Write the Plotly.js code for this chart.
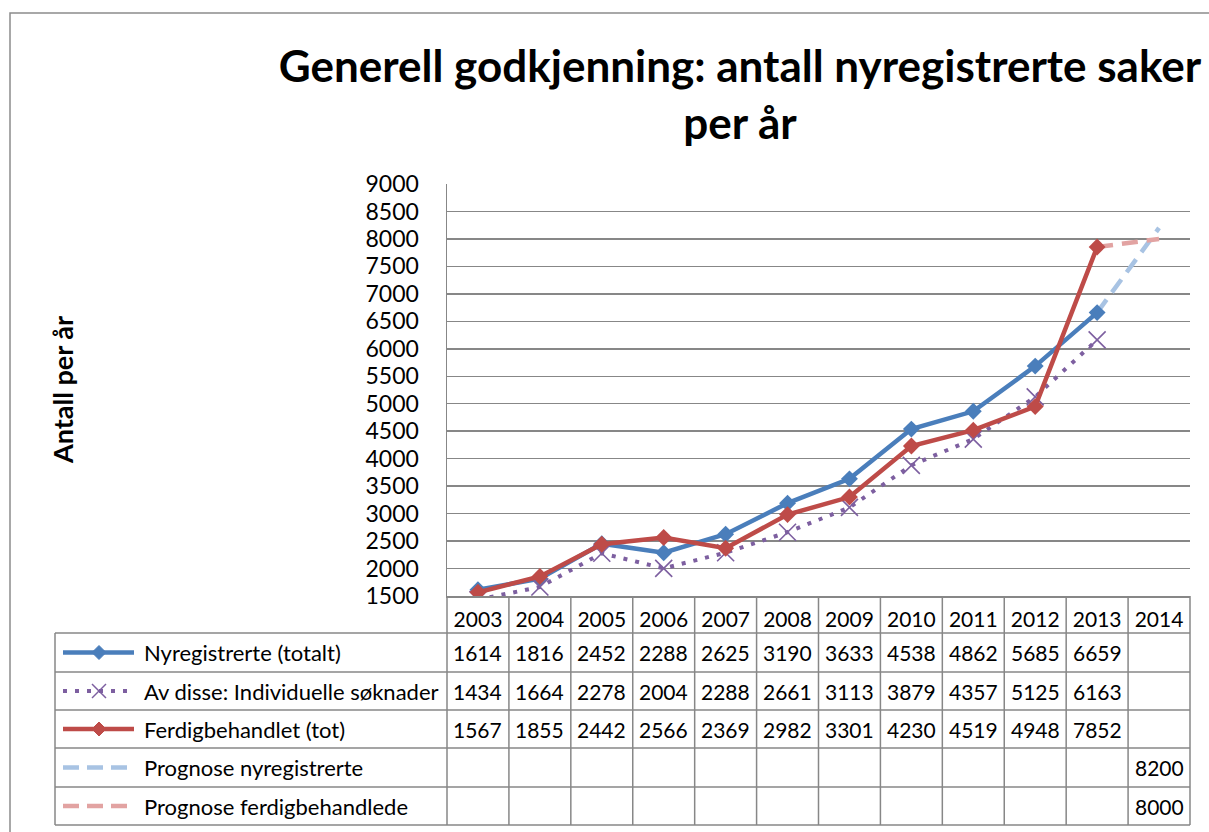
<!DOCTYPE html>
<html>
<head>
<meta charset="utf-8">
<script src="https://cdn.plot.ly/plotly-3.0.1.min.js"></script>
<style>html,body{margin:0;padding:0;background:#fff;}#chart{width:1209px;height:832px;}</style>
</head>
<body>
<div id="chart"></div>
<script>
// ---- data ----
const years = ['2003','2004','2005','2006','2007','2008','2009','2010','2011','2012','2013','2014'];
const nyregistrerte = [1614,1816,2452,2288,2625,3190,3633,4538,4862,5685,6659,null];
const individuelle = [1434,1664,2278,2004,2288,2661,3113,3879,4357,5125,6163,null];
const ferdigbehandlet = [1567,1855,2442,2566,2369,2982,3301,4230,4519,4948,7852,null];
const prognoseNyreg = [null,null,null,null,null,null,null,null,null,null,null,8200];
const prognoseFerdig = [null,null,null,null,null,null,null,null,null,null,null,8000];
const seriesNames = ['Nyregistrerte (totalt)','Av disse: Individuelle søknader','Ferdigbehandlet (tot)','Prognose nyregistrerte','Prognose ferdigbehandlede'];
const titleText = 'Generell godkjenning: antall nyregistrerte saker<br>per år';
const yTitle = 'Antall per år';

// ---- style ----
const C_BLUE = '#4A7EBB', C_RED = '#BE4B48', C_PURPLE = '#7D5FA0', C_LBLUE = '#A8C3E3', C_PINK = '#E2A3A2';
const GRID = '#878787';
const FONT = 'Lato, "Open Sans", sans-serif';
const W = 1209, H = 832;
const L = 447, R = 1190, T = 184, B = 596;
const xp = px => (px - L) / (R - L);
const yp = py => (B - py) / (B - T);

// prognosis traces start from the last actual value
function withStart(prog, actual) {
  const out = prog.slice();
  let last = -1;
  actual.forEach((v, i) => { if (v !== null) last = i; });
  if (last >= 0) out[last] = actual[last];
  return out;
}

const traces = [
  {x: years, y: withStart(prognoseNyreg, nyregistrerte), mode: 'lines', name: seriesNames[3],
   line: {color: C_LBLUE, width: 4.5, dash: '16px,9px'}, connectgaps: false},
  {x: years, y: withStart(prognoseFerdig, ferdigbehandlet), mode: 'lines', name: seriesNames[4],
   line: {color: C_PINK, width: 4.5, dash: '16px,9px'}},
  {x: years, y: nyregistrerte, mode: 'lines+markers', name: seriesNames[0],
   line: {color: C_BLUE, width: 4.5}, marker: {symbol: 'diamond', size: 13, color: C_BLUE}},
  {x: years, y: individuelle, mode: 'lines+markers', name: seriesNames[1],
   line: {color: C_PURPLE, width: 4, dash: '4px,8px'},
   marker: {symbol: 'x-thin-open', size: 17, color: C_PURPLE, line: {color: C_PURPLE, width: 1.6}}},
  {x: years, y: ferdigbehandlet, mode: 'lines+markers', name: seriesNames[2],
   line: {color: C_RED, width: 4.5}, marker: {symbol: 'diamond', size: 13, color: C_RED}}
];

// ---- table (data table below the plot) ----
const rowEdges = [633, 672, 710, 748, 787, 825];
const tableRows = [nyregistrerte, individuelle, ferdigbehandlet, prognoseNyreg, prognoseFerdig];
const shapes = [];
const annotations = [];
const lineStyle = {color: GRID, width: 1.5};

// outer chart border
shapes.push({type: 'rect', xref: 'paper', yref: 'paper', x0: xp(10), x1: xp(1230), y0: yp(13), y1: yp(850),
  line: {color: '#8C8C8C', width: 1.5}, fillcolor: 'rgba(0,0,0,0)', layer: 'below'});

// horizontal table lines
rowEdges.forEach(py => shapes.push({type: 'line', xref: 'paper', yref: 'paper', x0: xp(55), x1: 1, y0: yp(py), y1: yp(py), line: lineStyle}));
// vertical lines
shapes.push({type: 'line', xref: 'paper', yref: 'paper', x0: xp(55), x1: xp(55), y0: yp(633), y1: yp(825), line: lineStyle});
shapes.push({type: 'line', xref: 'paper', yref: 'paper', x0: 0, x1: 0, y0: yp(596), y1: yp(825), line: lineStyle});
shapes.push({type: 'line', xref: 'paper', yref: 'paper', x0: 1, x1: 1, y0: yp(596), y1: yp(825), line: lineStyle});
for (let i = 0; i < years.length - 1; i++) {
  shapes.push({type: 'line', xref: 'x', yref: 'paper', x0: i + 0.5, x1: i + 0.5, y0: yp(596), y1: yp(825), line: lineStyle});
}

// cell values
tableRows.forEach((row, r) => {
  const cy = (rowEdges[r] + rowEdges[r + 1]) / 2;
  row.forEach((v, i) => {
    if (v === null) return;
    annotations.push({xref: 'x', yref: 'paper', x: i, y: yp(cy), text: String(v), showarrow: false,
      xanchor: 'center', yanchor: 'middle', font: {family: FONT, size: 21, color: '#000'}});
  });
  annotations.push({xref: 'paper', yref: 'paper', x: xp(142), y: yp(cy), text: seriesNames[r], showarrow: false,
    xanchor: 'left', yanchor: 'middle', font: {family: FONT, size: 22, color: '#000'}});
});

// legend keys inside the table
function keyLine(cy, color, dash, width) {
  shapes.push({type: 'line', xref: 'paper', yref: 'paper', x0: xp(63), x1: xp(134), y0: yp(cy), y1: yp(cy),
    line: {color: color, width: width, dash: dash}});
}
function keyDiamond(cy, color) {
  const cx = 99, r = 7;
  shapes.push({type: 'path', xref: 'paper', yref: 'paper',
    path: `M ${xp(cx - r)} ${yp(cy)} L ${xp(cx)} ${yp(cy - r)} L ${xp(cx + r)} ${yp(cy)} L ${xp(cx)} ${yp(cy + r)} Z`,
    fillcolor: color, line: {color: color, width: 1}});
}
const rc = i => (rowEdges[i] + rowEdges[i + 1]) / 2;
keyLine(rc(0), C_BLUE, 'solid', 4.5); keyDiamond(rc(0), C_BLUE);
keyLine(rc(1), C_PURPLE, '4px,8px', 4);
shapes.push({type: 'line', xref: 'paper', yref: 'paper', x0: xp(92), x1: xp(106), y0: yp(rc(1) - 7), y1: yp(rc(1) + 7), line: {color: C_PURPLE, width: 1.5}});
shapes.push({type: 'line', xref: 'paper', yref: 'paper', x0: xp(92), x1: xp(106), y0: yp(rc(1) + 7), y1: yp(rc(1) - 7), line: {color: C_PURPLE, width: 1.5}});
keyLine(rc(2), C_RED, 'solid', 4.5); keyDiamond(rc(2), C_RED);
keyLine(rc(3), C_LBLUE, '16px,8px', 4.5);
keyLine(rc(4), C_PINK, '16px,8px', 4.5);

// y-axis title
annotations.push({xref: 'paper', yref: 'paper', x: xp(62), y: yp(390), text: '<b>' + yTitle + '</b>', textangle: -90,
  showarrow: false, xanchor: 'center', yanchor: 'middle', font: {family: FONT, size: 27, color: '#000'}});

const layout = {
  width: W, height: H,
  margin: {l: L, r: W - R, t: T, b: H - B, pad: 0},
  paper_bgcolor: '#fff', plot_bgcolor: '#fff',
  showlegend: false,
  title: {text: '<b>' + titleText + '</b>', xref: 'container', yref: 'container', x: 740 / W, xanchor: 'center',
    y: 1 - 82 / H, yanchor: 'top', font: {family: FONT, size: 44, color: '#000'}},
  xaxis: {type: 'category', range: [-0.5, years.length - 0.5], showgrid: false, zeroline: false,
    showline: true, linecolor: GRID, linewidth: 1.5, ticks: '', ticklabelstandoff: 4,
    tickfont: {family: FONT, size: 21, color: '#000'}, fixedrange: true},
  yaxis: {range: [1500, 9000], dtick: 500, tick0: 1500, showgrid: true, gridcolor: GRID, gridwidth: 1.5,
    zeroline: false, showline: true, linecolor: GRID, linewidth: 1.5, ticks: '', ticklabelstandoff: 22,
    tickfont: {family: FONT, size: 23, color: '#000'}, fixedrange: true},
  shapes: shapes,
  annotations: annotations
};

Plotly.newPlot('chart', traces, layout, {staticPlot: true});
</script>
</body>
</html>
